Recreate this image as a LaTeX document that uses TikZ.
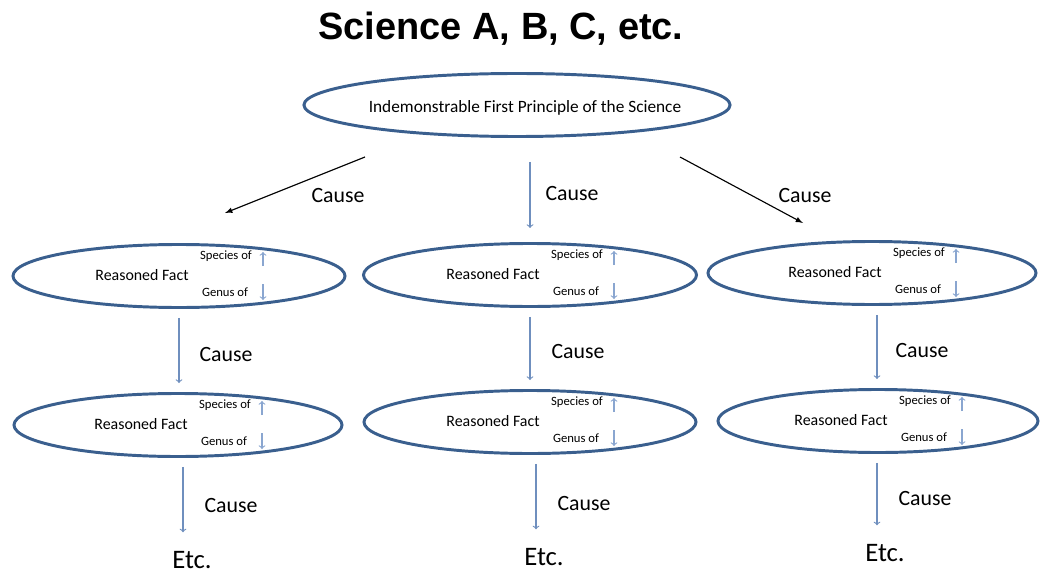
\documentclass[tikz,border=0pt]{standalone}
\usepackage{fontspec}
\setmainfont{Carlito}
\newfontfamily\headfont{Liberation Sans}
\usetikzlibrary{arrows,shapes.geometric}

\definecolor{ringblue}{HTML}{3A5F8E}
\definecolor{causeblue}{HTML}{6F8FBE}
\definecolor{tickblue}{HTML}{8AA6D0}

\tikzset{
  fact/.style={ellipse, draw=ringblue, line width=2.1pt, inner sep=0pt},
  rf/.style={font=\fontsize{11.3}{13}\selectfont, inner sep=0pt, anchor=base},
  kind/.style={font=\fontsize{9}{11}\selectfont, inner sep=0pt, anchor=base},
  lbl/.style={font=\fontsize{15.5}{18}\selectfont, inner sep=0pt, anchor=base},
  etc/.style={font=\fontsize{19}{22}\selectfont, inner sep=0pt, anchor=base},
  cause/.style={->, draw=causeblue, line width=0.8pt, shorten <=6.4pt, shorten >=6.4pt},
  diag/.style={-latex, draw=black, line width=0.8pt},
  tick/.style={->, draw=tickblue, line width=0.8pt}
}

\begin{document}
\begin{tikzpicture}[x=0.025cm, y=-0.025cm]
  \useasboundingbox (0,0) rectangle (1044,577);

  \node[font=\headfont\bfseries\fontsize{27}{32}\selectfont, inner sep=0pt, anchor=base] (title) at (501,40) {Science A, B, C, etc.};

  % first principle
  \node[fact, minimum width=10.65cm, minimum height=1.575cm] (top) at (517,105) {};
  \node[font=\fontsize{12.3}{14}\selectfont, inner sep=0pt, anchor=base] (topt) at (525,113) {Indemonstrable First Principle of the Science};

  % reasoned facts
  \foreach \nm/\cx/\cy/\w in {L1/179/276/332, M1/530/275/333, R1/872/273/328,
                               L2/178/425/328, M2/530/422/332, R2/878/421/320} {
    \node[fact, minimum width=\w*0.025cm, minimum height=1.575cm] (\nm) at (\cx,\cy) {};
    \node[rf] (\nm-r) at ([shift={(-37,4)}]\nm.center) {Reasoned Fact};
    \node[kind] (\nm-s) at ([shift={(47,-17)}]\nm.center) {Species of};
    \node[kind] (\nm-g) at ([shift={(46,20)}]\nm.center) {Genus of};
    \draw[tick] ([shift={(84,-10)}]\nm.center) -- ([shift={(84,-24)}]\nm.center);
    \draw[tick] ([shift={(84,8)}]\nm.center) -- ([shift={(84,24)}]\nm.center);
  }

  \node[etc] (E1) at (192,568) {Etc.};
  \node[etc] (E2) at (544,565) {Etc.};
  \node[etc] (E3) at (885,561) {Etc.};

  % causes
  \coordinate (tl) at (365,157);
  \coordinate (el) at (225,213);
  \coordinate (tr) at (680,157);
  \coordinate (er) at (803,223);
  \draw[diag] (tl) -- (el);
  \draw[diag] (tr) -- (er);
  \draw[cause, shorten <=17pt, shorten >=10pt] (M1.north |- top.south) -- (M1.north);
  \draw[cause] (L1.south) -- (L1.south |- L2.north);
  \draw[cause] (M1.south) -- (M1.south |- M2.north);
  \draw[cause] ([xshift=0.125cm]R1.south) -- ([xshift=0.125cm]R1.south |- R2.north);
  \draw[cause, shorten >=13pt] ([xshift=0.125cm]L2.south) -- ([xshift=0.125cm]L2.south |- E1.north);
  \draw[cause, shorten >=13pt] ([xshift=0.15cm]M2.south) -- ([xshift=0.15cm]M2.south |- E2.north);
  \draw[cause, shorten >=13pt] ([xshift=-0.025cm]R2.south) -- ([xshift=-0.025cm]R2.south |- E3.north);

  \node[lbl] (c1) at (338,202) {Cause};
  \node[lbl] (c2) at (572,200) {Cause};
  \node[lbl] (c3) at (805,202) {Cause};
  \node[lbl] (c4) at (226,361) {Cause};
  \node[lbl] (c5) at (578,358) {Cause};
  \node[lbl] (c6) at (922,357) {Cause};
  \node[lbl] (c7) at (231,512) {Cause};
  \node[lbl] (c8) at (584,510) {Cause};
  \node[lbl] (c9) at (925,505) {Cause};
\end{tikzpicture}
\end{document}
